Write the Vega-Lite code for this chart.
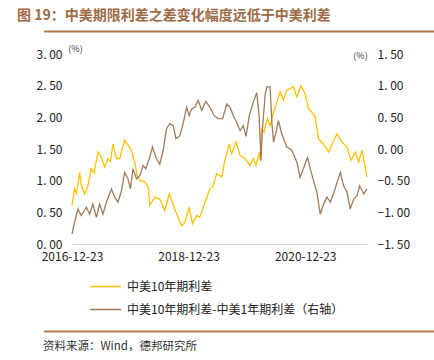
{
  "$schema": "https://vega.github.io/schema/vega-lite/v6.json",
  "padding": {"left": 17, "top": 8, "right": 0, "bottom": 0},
  "config": {
    "font": "Noto Sans CJK SC",
    "view": {"stroke": null},
    "axis": {"labelFont": "Noto Sans CJK SC", "titleFont": "Noto Sans CJK SC"},
    "legend": {"labelFont": "Noto Sans CJK SC"}
  },
  "title": {
    "text": "图 19：中美期限利差之差变化幅度远低于中美利差",
    "anchor": "start",
    "frame": "bounds",
    "font": "Noto Sans CJK SC",
    "fontSize": 14,
    "fontWeight": "bold",
    "color": "#9C6B45",
    "offset": 8
  },
  "datasets": {
    "sep": [{"start": 0, "end": 1}],
    "y10": [
      {"date": "2016-12-23", "series": "中美10年期利差", "value": 0.61},
      {"date": "2017-01-08", "series": "中美10年期利差", "value": 0.87},
      {"date": "2017-01-20", "series": "中美10年期利差", "value": 0.80},
      {"date": "2017-02-09", "series": "中美10年期利差", "value": 1.13},
      {"date": "2017-02-19", "series": "中美10年期利差", "value": 0.93},
      {"date": "2017-03-12", "series": "中美10年期利差", "value": 0.79},
      {"date": "2017-04-02", "series": "中美10年期利差", "value": 0.92},
      {"date": "2017-04-23", "series": "中美10年期利差", "value": 1.19},
      {"date": "2017-05-10", "series": "中美10年期利差", "value": 1.12},
      {"date": "2017-06-04", "series": "中美10年期利差", "value": 1.45},
      {"date": "2017-06-25", "series": "中美10年期利差", "value": 1.37},
      {"date": "2017-07-16", "series": "中美10年期利差", "value": 1.21},
      {"date": "2017-08-05", "series": "中美10年期利差", "value": 1.35},
      {"date": "2017-08-20", "series": "中美10年期利差", "value": 1.30},
      {"date": "2017-09-06", "series": "中美10年期利差", "value": 1.58},
      {"date": "2017-09-27", "series": "中美10年期利差", "value": 1.35},
      {"date": "2017-10-18", "series": "中美10年期利差", "value": 1.35},
      {"date": "2017-11-18", "series": "中美10年期利差", "value": 1.64},
      {"date": "2017-12-09", "series": "中美10年期利差", "value": 1.56},
      {"date": "2017-12-30", "series": "中美10年期利差", "value": 1.48},
      {"date": "2018-01-20", "series": "中美10年期利差", "value": 1.29},
      {"date": "2018-02-04", "series": "中美10年期利差", "value": 1.08},
      {"date": "2018-02-21", "series": "中美10年期利差", "value": 1.00},
      {"date": "2018-03-24", "series": "中美10年期利差", "value": 0.98},
      {"date": "2018-04-14", "series": "中美10年期利差", "value": 0.90},
      {"date": "2018-04-24", "series": "中美10年期利差", "value": 0.61},
      {"date": "2018-05-26", "series": "中美10年期利差", "value": 0.74},
      {"date": "2018-06-26", "series": "中美10年期利差", "value": 0.71},
      {"date": "2018-07-27", "series": "中美10年期利差", "value": 0.53},
      {"date": "2018-08-24", "series": "中美10年期利差", "value": 0.79},
      {"date": "2018-09-28", "series": "中美10年期利差", "value": 0.55},
      {"date": "2018-11-09", "series": "中美10年期利差", "value": 0.29},
      {"date": "2018-11-30", "series": "中美10年期利差", "value": 0.34},
      {"date": "2018-12-27", "series": "中美10年期利差", "value": 0.58},
      {"date": "2019-01-17", "series": "中美10年期利差", "value": 0.32},
      {"date": "2019-02-12", "series": "中美10年期利差", "value": 0.45},
      {"date": "2019-03-04", "series": "中美10年期利差", "value": 0.42},
      {"date": "2019-04-05", "series": "中美10年期利差", "value": 0.66},
      {"date": "2019-05-06", "series": "中美10年期利差", "value": 0.87},
      {"date": "2019-05-27", "series": "中美10年期利差", "value": 0.92},
      {"date": "2019-06-17", "series": "中美10年期利差", "value": 1.11},
      {"date": "2019-07-19", "series": "中美10年期利差", "value": 1.06},
      {"date": "2019-08-08", "series": "中美10年期利差", "value": 1.32},
      {"date": "2019-09-04", "series": "中美10年期利差", "value": 1.58},
      {"date": "2019-09-19", "series": "中美10年期利差", "value": 1.42},
      {"date": "2019-10-16", "series": "中美10年期利差", "value": 1.61},
      {"date": "2019-11-11", "series": "中美10年期利差", "value": 1.40},
      {"date": "2019-12-12", "series": "中美10年期利差", "value": 1.35},
      {"date": "2020-01-12", "series": "中美10年期利差", "value": 1.24},
      {"date": "2020-02-02", "series": "中美10年期利差", "value": 1.35},
      {"date": "2020-02-19", "series": "中美10年期利差", "value": 1.24},
      {"date": "2020-03-11", "series": "中美10年期利差", "value": 1.45},
      {"date": "2020-03-15", "series": "中美10年期利差", "value": 1.32},
      {"date": "2020-03-26", "series": "中美10年期利差", "value": 1.82},
      {"date": "2020-04-09", "series": "中美10年期利差", "value": 1.77},
      {"date": "2020-04-30", "series": "中美10年期利差", "value": 1.98},
      {"date": "2020-05-17", "series": "中美10年期利差", "value": 1.87},
      {"date": "2020-06-07", "series": "中美10年期利差", "value": 2.08},
      {"date": "2020-06-28", "series": "中美10年期利差", "value": 2.24},
      {"date": "2020-07-19", "series": "中美10年期利差", "value": 2.40},
      {"date": "2020-08-08", "series": "中美10年期利差", "value": 2.27},
      {"date": "2020-08-30", "series": "中美10年期利差", "value": 2.43},
      {"date": "2020-10-10", "series": "中美10年期利差", "value": 2.48},
      {"date": "2020-11-01", "series": "中美10年期利差", "value": 2.32},
      {"date": "2020-11-26", "series": "中美10年期利差", "value": 2.50},
      {"date": "2020-12-23", "series": "中美10年期利差", "value": 2.37},
      {"date": "2021-01-12", "series": "中美10年期利差", "value": 2.14},
      {"date": "2021-02-03", "series": "中美10年期利差", "value": 2.08},
      {"date": "2021-02-24", "series": "中美10年期利差", "value": 2.00},
      {"date": "2021-03-16", "series": "中美10年期利差", "value": 1.66},
      {"date": "2021-04-17", "series": "中美10年期利差", "value": 1.58},
      {"date": "2021-05-18", "series": "中美10年期利差", "value": 1.45},
      {"date": "2021-06-15", "series": "中美10年期利差", "value": 1.61},
      {"date": "2021-07-10", "series": "中美10年期利差", "value": 1.74},
      {"date": "2021-08-10", "series": "中美10年期利差", "value": 1.61},
      {"date": "2021-09-11", "series": "中美10年期利差", "value": 1.53},
      {"date": "2021-10-06", "series": "中美10年期利差", "value": 1.32},
      {"date": "2021-11-02", "series": "中美10年期利差", "value": 1.45},
      {"date": "2021-11-22", "series": "中美10年期利差", "value": 1.29},
      {"date": "2021-12-14", "series": "中美10年期利差", "value": 1.48},
      {"date": "2022-01-14", "series": "中美10年期利差", "value": 1.06}
    ],
    "diff": [
      {"date": "2016-12-23", "series": "中美10年期利差-中美1年期利差（右轴）", "value": -1.34},
      {"date": "2017-01-08", "series": "中美10年期利差-中美1年期利差（右轴）", "value": -1.16},
      {"date": "2017-01-29", "series": "中美10年期利差-中美1年期利差（右轴）", "value": -0.95},
      {"date": "2017-02-19", "series": "中美10年期利差-中美1年期利差（右轴）", "value": -1.05},
      {"date": "2017-03-23", "series": "中美10年期利差-中美1年期利差（右轴）", "value": -0.92},
      {"date": "2017-04-13", "series": "中美10年期利差-中美1年期利差（右轴）", "value": -1.03},
      {"date": "2017-05-03", "series": "中美10年期利差-中美1年期利差（右轴）", "value": -0.87},
      {"date": "2017-05-25", "series": "中美10年期利差-中美1年期利差（右轴）", "value": -1.08},
      {"date": "2017-06-14", "series": "中美10年期利差-中美1年期利差（右轴）", "value": -0.87},
      {"date": "2017-07-05", "series": "中美10年期利差-中美1年期利差（右轴）", "value": -1.03},
      {"date": "2017-07-26", "series": "中美10年期利差-中美1年期利差（右轴）", "value": -0.84},
      {"date": "2017-08-27", "series": "中美10年期利差-中美1年期利差（右轴）", "value": -0.63},
      {"date": "2017-09-17", "series": "中美10年期利差-中美1年期利差（右轴）", "value": -0.76},
      {"date": "2017-10-07", "series": "中美10年期利差-中美1年期利差（右轴）", "value": -0.84},
      {"date": "2017-10-29", "series": "中美10年期利差-中美1年期利差（右轴）", "value": -0.66},
      {"date": "2017-11-18", "series": "中美10年期利差-中美1年期利差（右轴）", "value": -0.37},
      {"date": "2017-12-09", "series": "中美10年期利差-中美1年期利差（右轴）", "value": -0.47},
      {"date": "2017-12-24", "series": "中美10年期利差-中美1年期利差（右轴）", "value": -0.63},
      {"date": "2018-01-09", "series": "中美10年期利差-中美1年期利差（右轴）", "value": -0.31},
      {"date": "2018-01-31", "series": "中美10年期利差-中美1年期利差（右轴）", "value": -0.47},
      {"date": "2018-02-21", "series": "中美10年期利差-中美1年期利差（右轴）", "value": -0.42},
      {"date": "2018-03-13", "series": "中美10年期利差-中美1年期利差（右轴）", "value": -0.26},
      {"date": "2018-03-30", "series": "中美10年期利差-中美1年期利差（右轴）", "value": -0.31},
      {"date": "2018-04-20", "series": "中美10年期利差-中美1年期利差（右轴）", "value": -0.16},
      {"date": "2018-05-11", "series": "中美10年期利差-中美1年期利差（右轴）", "value": 0.03},
      {"date": "2018-06-01", "series": "中美10年期利差-中美1年期利差（右轴）", "value": -0.13},
      {"date": "2018-06-26", "series": "中美10年期利差-中美1年期利差（右轴）", "value": -0.24},
      {"date": "2018-07-17", "series": "中美10年期利差-中美1年期利差（右轴）", "value": -0.02},
      {"date": "2018-08-07", "series": "中美10年期利差-中美1年期利差（右轴）", "value": 0.32},
      {"date": "2018-08-28", "series": "中美10年期利差-中美1年期利差（右轴）", "value": 0.40},
      {"date": "2018-09-18", "series": "中美10年期利差-中美1年期利差（右轴）", "value": 0.37},
      {"date": "2018-10-05", "series": "中美10年期利差-中美1年期利差（右轴）", "value": 0.16},
      {"date": "2018-10-30", "series": "中美10年期利差-中美1年期利差（右轴）", "value": 0.21},
      {"date": "2018-11-19", "series": "中美10年期利差-中美1年期利差（右轴）", "value": 0.40},
      {"date": "2018-12-11", "series": "中美10年期利差-中美1年期利差（右轴）", "value": 0.66},
      {"date": "2018-12-27", "series": "中美10年期利差-中美1年期利差（右轴）", "value": 0.53},
      {"date": "2019-01-11", "series": "中美10年期利差-中美1年期利差（右轴）", "value": 0.63},
      {"date": "2019-02-01", "series": "中美10年期利差-中美1年期利差（右轴）", "value": 0.66},
      {"date": "2019-02-22", "series": "中美10年期利差-中美1年期利差（右轴）", "value": 0.77},
      {"date": "2019-03-15", "series": "中美10年期利差-中美1年期利差（右轴）", "value": 0.61},
      {"date": "2019-04-11", "series": "中美10年期利差-中美1年期利差（右轴）", "value": 0.75},
      {"date": "2019-05-06", "series": "中美10年期利差-中美1年期利差（右轴）", "value": 0.66},
      {"date": "2019-05-31", "series": "中美10年期利差-中美1年期利差（右轴）", "value": 0.53},
      {"date": "2019-06-27", "series": "中美10年期利差-中美1年期利差（右轴）", "value": 0.48},
      {"date": "2019-07-25", "series": "中美10年期利差-中美1年期利差（右轴）", "value": 0.48},
      {"date": "2019-08-19", "series": "中美10年期利差-中美1年期利差（右轴）", "value": 0.71},
      {"date": "2019-09-09", "series": "中美10年期利差-中美1年期利差（右轴）", "value": 0.66},
      {"date": "2019-09-29", "series": "中美10年期利差-中美1年期利差（右轴）", "value": 0.53},
      {"date": "2019-10-21", "series": "中美10年期利差-中美1年期利差（右轴）", "value": 0.42},
      {"date": "2019-11-11", "series": "中美10年期利差-中美1年期利差（右轴）", "value": 0.29},
      {"date": "2019-12-01", "series": "中美10年期利差-中美1年期利差（右轴）", "value": 0.37},
      {"date": "2019-12-18", "series": "中美10年期利差-中美1年期利差（右轴）", "value": 0.20},
      {"date": "2020-01-08", "series": "中美10年期利差-中美1年期利差（右轴）", "value": 0.53},
      {"date": "2020-02-02", "series": "中美10年期利差-中美1年期利差（右轴）", "value": 0.74},
      {"date": "2020-02-23", "series": "中美10年期利差-中美1年期利差（右轴）", "value": 0.89},
      {"date": "2020-03-09", "series": "中美10年期利差-中美1年期利差（右轴）", "value": 0.53},
      {"date": "2020-03-21", "series": "中美10年期利差-中美1年期利差（右轴）", "value": -0.18},
      {"date": "2020-03-30", "series": "中美10年期利差-中美1年期利差（右轴）", "value": 0.32},
      {"date": "2020-04-16", "series": "中美10年期利差-中美1年期利差（右轴）", "value": 0.85},
      {"date": "2020-04-26", "series": "中美10年期利差-中美1年期利差（右轴）", "value": 0.98},
      {"date": "2020-05-17", "series": "中美10年期利差-中美1年期利差（右轴）", "value": 0.98},
      {"date": "2020-05-28", "series": "中美10年期利差-中美1年期利差（右轴）", "value": 0.42},
      {"date": "2020-06-07", "series": "中美10年期利差-中美1年期利差（右轴）", "value": 0.11},
      {"date": "2020-06-24", "series": "中美10年期利差-中美1年期利差（右轴）", "value": 0.27},
      {"date": "2020-07-08", "series": "中美10年期利差-中美1年期利差（右轴）", "value": 0.45},
      {"date": "2020-07-29", "series": "中美10年期利差-中美1年期利差（右轴）", "value": 0.24},
      {"date": "2020-08-30", "series": "中美10年期利差-中美1年期利差（右轴）", "value": 0.03},
      {"date": "2020-09-30", "series": "中美10年期利差-中美1年期利差（右轴）", "value": -0.02},
      {"date": "2020-11-01", "series": "中美10年期利差-中美1年期利差（右轴）", "value": -0.21},
      {"date": "2020-11-21", "series": "中美10年期利差-中美1年期利差（右轴）", "value": -0.45},
      {"date": "2020-12-12", "series": "中美10年期利差-中美1年期利差（右轴）", "value": -0.31},
      {"date": "2021-01-06", "series": "中美10年期利差-中美1年期利差（右轴）", "value": -0.13},
      {"date": "2021-01-23", "series": "中美10年期利差-中美1年期利差（右轴）", "value": -0.31},
      {"date": "2021-02-13", "series": "中美10年期利差-中美1年期利差（右轴）", "value": -0.50},
      {"date": "2021-03-06", "series": "中美10年期利差-中美1年期利差（右轴）", "value": -0.68},
      {"date": "2021-03-27", "series": "中美10年期利差-中美1年期利差（右轴）", "value": -1.03},
      {"date": "2021-04-17", "series": "中美10年期利差-中美1年期利差（右轴）", "value": -0.87},
      {"date": "2021-05-08", "series": "中美10年期利差-中美1年期利差（右轴）", "value": -0.76},
      {"date": "2021-05-29", "series": "中美10年期利差-中美1年期利差（右轴）", "value": -0.84},
      {"date": "2021-06-18", "series": "中美10年期利差-中美1年期利差（右轴）", "value": -0.71},
      {"date": "2021-07-10", "series": "中美10年期利差-中美1年期利差（右轴）", "value": -0.53},
      {"date": "2021-07-31", "series": "中美10年期利差-中美1年期利差（右轴）", "value": -0.37},
      {"date": "2021-08-20", "series": "中美10年期利差-中美1年期利差（右轴）", "value": -0.58},
      {"date": "2021-09-11", "series": "中美10年期利差-中美1年期利差（右轴）", "value": -0.68},
      {"date": "2021-10-01", "series": "中美10年期利差-中美1年期利差（右轴）", "value": -0.95},
      {"date": "2021-10-22", "series": "中美10年期利差-中美1年期利差（右轴）", "value": -0.79},
      {"date": "2021-11-12", "series": "中美10年期利差-中美1年期利差（右轴）", "value": -0.74},
      {"date": "2021-11-29", "series": "中美10年期利差-中美1年期利差（右轴）", "value": -0.58},
      {"date": "2021-12-24", "series": "中美10年期利差-中美1年期利差（右轴）", "value": -0.71},
      {"date": "2022-01-14", "series": "中美10年期利差-中美1年期利差（右轴）", "value": -0.63}
    ]
  },
  "concat": [
    {
      "width": 411,
      "height": 1,
      "data": {"name": "sep"},
      "mark": {"type": "rule", "color": "#B07A4E", "strokeWidth": 2},
      "encoding": {
        "x": {"field": "start", "type": "quantitative", "scale": {"domain": [0, 1], "nice": false, "zero": false}, "axis": null},
        "x2": {"field": "end"}
      }
    },
    {
      "width": 295,
      "height": 190,
      "encoding": {
        "x": {
          "field": "date",
          "type": "temporal",
          "scale": {"type": "utc", "domain": [{"year": 2016, "month": 12, "date": 23, "utc": true}, {"year": 2022, "month": 1, "date": 14, "utc": true}]},
          "axis": {
            "title": null,
            "format": "%Y-%m-%d",
            "values": [{"year": 2016, "month": 12, "date": 23, "utc": true}, {"year": 2018, "month": 12, "date": 23, "utc": true}, {"year": 2020, "month": 12, "date": 23, "utc": true}],
            "ticks": false,
            "grid": false,
            "domainColor": "#D9D9D9",
            "domainWidth": 1.2,
            "labelFontSize": 12,
            "labelColor": "#222222",
            "labelPadding": 7,
            "labelFlush": false,
            "minExtent": 75
          }
        },
        "color": {
          "field": "series",
          "type": "nominal",
          "scale": {"domain": ["中美10年期利差", "中美10年期利差-中美1年期利差（右轴）"], "range": ["#FFC000", "#A07B5C"]},
          "legend": {
            "title": null,
            "orient": "none",
            "legendX": 45,
            "legendY": 239,
            "direction": "vertical",
            "symbolType": "stroke",
            "symbolSize": 961,
            "symbolStrokeWidth": 1.5,
            "labelFontSize": 12,
            "labelColor": "#222222",
            "labelOffset": 5,
            "rowPadding": -13,
            "labelLimit": 400,
            "padding": 0
          }
        }
      },
      "layer": [
        {
          "data": {"name": "y10"},
          "mark": {"type": "line", "strokeWidth": 1.3},
          "encoding": {
            "y": {
              "field": "value",
              "type": "quantitative",
              "scale": {"domain": [0, 3], "nice": false},
              "axis": {
                "orient": "left",
                "values": [0, 0.5, 1, 1.5, 2, 2.5, 3],
                "labelExpr": "replace(format(datum.value, '.2f'), '.', '. ')",
                "ticks": false,
                "domain": false,
                "grid": false,
                "labelFontSize": 12,
                "labelColor": "#222222",
                "labelPadding": 10,
                "minExtent": 55,
                "title": "(%)",
                "titleAngle": 0,
                "titleAlign": "center",
                "titleBaseline": "middle",
                "titleX": 3,
                "titleY": -6,
                "titleFontSize": 9,
                "titleFontWeight": "normal",
                "titleColor": "#333333"
              }
            }
          }
        },
        {
          "data": {"name": "diff"},
          "mark": {"type": "line", "strokeWidth": 1.3},
          "encoding": {
            "y": {
              "field": "value",
              "type": "quantitative",
              "scale": {"domain": [-1.5, 1.5], "nice": false},
              "axis": {
                "orient": "right",
                "values": [-1.5, -1, -0.5, 0, 0.5, 1, 1.5],
                "labelExpr": "replace(format(datum.value, '.2f'), '.', '. ')",
                "ticks": false,
                "domain": false,
                "grid": false,
                "labelFontSize": 12,
                "labelColor": "#222222",
                "labelPadding": 10,
                "minExtent": 61,
                "title": "(%)",
                "titleAngle": 0,
                "titleAlign": "center",
                "titleBaseline": "middle",
                "titleX": -7,
                "titleY": 1,
                "titleFontSize": 9,
                "titleFontWeight": "normal",
                "titleColor": "#333333"
              }
            }
          }
        }
      ],
      "resolve": {"scale": {"y": "independent"}}
    },
    {
      "width": 411,
      "height": 1,
      "data": {"name": "sep"},
      "mark": {"type": "rule", "color": "#B07A4E", "strokeWidth": 2},
      "encoding": {
        "x": {"field": "start", "type": "quantitative", "scale": {"domain": [0, 1], "nice": false, "zero": false}, "axis": null},
        "x2": {"field": "end"}
      },
      "title": {
        "text": "资料来源：Wind，德邦研究所",
        "orient": "bottom",
        "anchor": "start",
        "fontSize": 11.5,
        "fontWeight": "normal",
        "color": "#333333",
        "offset": 8
      }
    }
  ],
  "columns": 1,
  "align": "each",
  "center": true,
  "spacing": 11,
  "resolve": {"scale": {"x": "independent"}, "axis": {"x": "independent"}}
}
